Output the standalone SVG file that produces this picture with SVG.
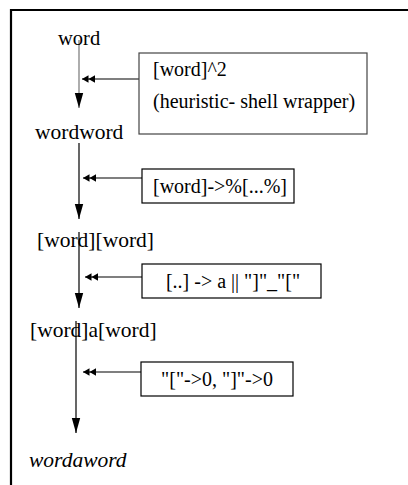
<svg xmlns="http://www.w3.org/2000/svg" width="408" height="485" viewBox="0 0 408 485">
<defs>
<style>
text{font-family:'Liberation Serif','Times New Roman',serif;fill:#000}
.lbl{font-size:21.5px}
.bt{font-size:20px}
.box{fill:#fff;stroke:#000;stroke-width:1.2}
.v{stroke:#000;stroke-width:1.2;fill:none;marker-end:url(#ah)}
.h{stroke:#000;stroke-width:1.2;fill:none;marker-start:url(#dh)}
</style>
<marker id="ah" markerUnits="userSpaceOnUse" orient="auto" refX="0" refY="0" markerWidth="20" markerHeight="12" viewBox="-16 -6 18 12" overflow="visible">
<path d="M0,0 L-15,-4.2 L-15,4.2 Z" fill="#000"/>
</marker>
<marker id="dh" markerUnits="userSpaceOnUse" orient="auto" refX="0" refY="0" markerWidth="16" markerHeight="10" viewBox="-1 -5 16 10" overflow="visible">
<path d="M0,0 L6.5,-3.8 L6.5,3.8 Z M6.5,0 L13,-3.8 L13,3.8 Z" fill="#000"/>
</marker>
</defs>
<rect width="408" height="485" fill="#fff"/>
<path d="M11,485 V10 H408" fill="none" stroke="#000" stroke-width="2.2"/>
<g id="connectors">
<line class="v" x1="79" y1="40" x2="79" y2="108" style="stroke:#777"/>
<line class="v" x1="79" y1="143" x2="79" y2="219"/>
<line class="v" x1="79" y1="232" x2="79" y2="308"/>
<line class="v" x1="76" y1="321" x2="76" y2="433"/>
<line class="h" x1="82" y1="79" x2="139" y2="79"/>
<line class="h" x1="83" y1="178" x2="142" y2="178"/>
<line class="h" x1="85" y1="277" x2="142" y2="277"/>
<line class="h" x1="83" y1="372" x2="141" y2="372"/>
</g>
<g id="n-word"><text class="lbl" x="58" y="45" style="font-size:20.5px">word</text></g>
<g id="n-wordword"><text class="lbl" x="35" y="139">wordword</text></g>
<g id="n-wordword2"><text class="lbl" x="37" y="247">[word][word]</text></g>
<g id="n-wordaword"><text class="lbl" x="30" y="337">[word]a[word]</text></g>
<g id="n-final"><text class="lbl" x="29" y="467" font-style="italic">wordaword</text></g>
<g id="b1">
<rect class="box" x="139" y="53" width="228" height="81" style="stroke:#444"/>
<text class="bt" x="153" y="76">[word]^2</text>
<text class="bt" x="153" y="108">(heuristic- shell wrapper)</text>
</g>
<g id="b2">
<rect class="box" x="142" y="169" width="152" height="34"/>
<text class="bt" x="220" y="193" text-anchor="middle">[word]-&gt;%[...%]</text>
</g>
<g id="b3">
<rect class="box" x="142" y="264" width="179" height="34"/>
<text class="bt" x="233" y="288" text-anchor="middle">[..] -&gt; a || "]"_"["</text>
</g>
<g id="b4">
<rect class="box" x="141" y="362" width="152" height="34"/>
<text class="bt" x="217" y="386" text-anchor="middle">"["-&gt;0, "]"-&gt;0</text>
</g>
</svg>
